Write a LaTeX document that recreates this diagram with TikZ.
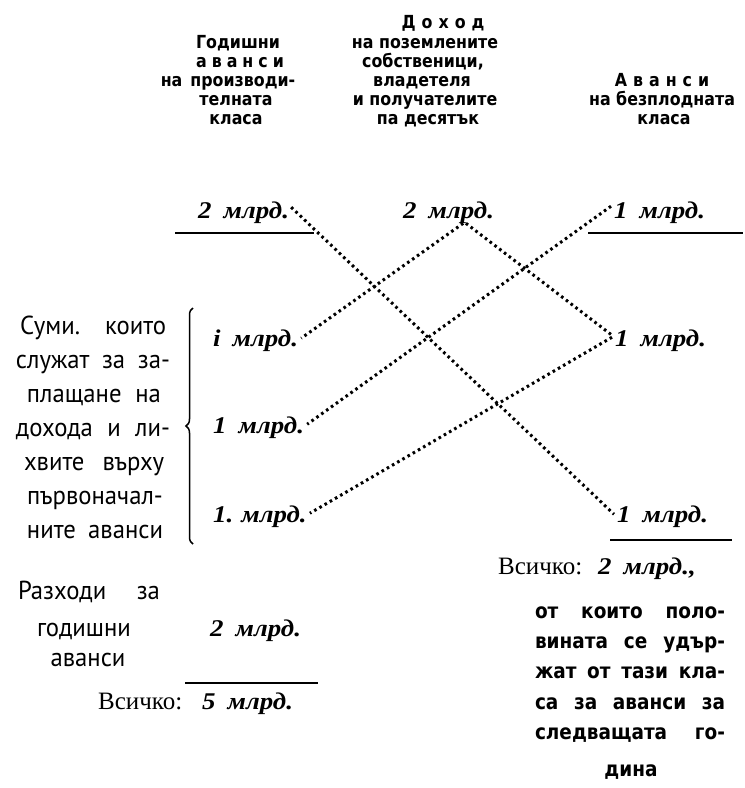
\documentclass[tikz,border=0pt]{standalone}
\usepackage{fontspec}
\setmainfont{PT Sans}
\newfontfamily\bodyfont[FakeStretch=0.95]{PT Sans}
\newfontfamily\hdrfont[FakeStretch=0.88]{DejaVu Sans}
\newfontfamily\rfont[FakeStretch=0.88]{DejaVu Sans}
\newfontfamily\numfont[FakeStretch=1.12]{Liberation Serif}
\newfontfamily\serfont{Liberation Serif}
\usetikzlibrary{decorations.pathreplacing,calc}
\newcommand\nfnt{\numfont\bfseries\itshape\fontsize{24}{24}\selectfont}
\begin{document}
\begin{tikzpicture}[x=1pt,y=-1pt,
  hdr/.style={font=\hdrfont\bfseries\fontsize{18}{18}\selectfont, inner sep=0pt, anchor=base},
  num/.style={font=\nfnt, inner sep=0pt, anchor=base west},
  body/.style={font=\bodyfont\fontsize{26}{26}\selectfont, inner sep=0pt, anchor=base},
  rtext/.style={font=\rfont\bfseries\fontsize{21}{21}\selectfont, inner sep=0pt, anchor=base},
  rulel/.style={line width=1.8pt},
  dotl/.style={line width=3pt, dash pattern=on 2.6pt off 3.4pt},
  bracel/.style={line width=1.5pt, decorate, decoration={brace, amplitude=7pt}}]
\useasboundingbox (0,0) rectangle (745,788);
\fill[white] (0,0) rectangle (745,788);

% headers
\node[hdr] (c1a) at (238,48) {Годишни};
\node[hdr] (c1b) at (240,67) {а\kern5ptв\kern5ptа\kern5ptн\kern5ptс\kern5ptи};
\node[hdr] (c1c) at (228,86) {на\kern8pt производи-};
\node[hdr] (c1d) at (236,105) {телната};
\node[hdr] (c1e) at (236,124) {класа};

\node[hdr] (c2a) at (443,28) {Д\kern6ptо\kern6ptх\kern6ptо\kern6ptд};
\node[hdr] (c2b) at (425,48) {на поземлените};
\node[hdr] (c2c) at (423,67) {собственици,};
\node[hdr] (c2d) at (422,86) {владетеля};
\node[hdr] (c2e) at (425,105) {и получателите};
\node[hdr] (c2f) at (428,124) {па десятък};

\node[hdr] (c3a) at (662,86) {А\kern6ptв\kern6ptа\kern6ptн\kern6ptс\kern6ptи};
\node[hdr] (c3b) at (662,105) {на безплодната};
\node[hdr] (c3c) at (664,124) {класа};

% top values
\node[num] (topL) at (198,218) {2\hspace{12pt}млрд.};
\node[num] (topM) at (403,218) {2\hspace{12pt}млрд.};
\node[num] (topR) at (614,218) {1\hspace{12pt}млрд.};
\draw[rulel] (175,233) -- (314,233);
\draw[rulel] (588,233) -- (743,233);

% left column values
\node[num] (l1) at (213,346) {i\hspace{12pt}млрд.};
\node[num] (l2) at (213,433) {1\hspace{12pt}млрд.};
\node[num] (l3) at (213,522) {1.\hspace{8pt}млрд.};

% right column values
\node[num] (rM) at (615,346) {1\hspace{12pt}млрд.};
\node[num] (rB) at (617,522) {1\hspace{12pt}млрд.};
\draw[rulel] (610,540) -- (732,540);
\node[anchor=base west, inner sep=0pt] (totR) at (498,574)
  {{\serfont\fontsize{25}{25}\selectfont Всичко:}\hspace{16pt}{\nfnt 2\hspace{12pt}млрд.,}};

% brace and left paragraph
\draw[bracel] (193,544) -- (193,308);
\node[body] (p1) at (93,334) {\makebox[146pt][s]{Суми. които}};
\node[body] (p2) at (93,368) {\makebox[154pt][s]{служат за за-}};
\node[body] (p3) at (94,402) {\makebox[134pt][s]{плащане на}};
\node[body] (p4) at (93,436) {\makebox[154pt][s]{дохода и ли-}};
\node[body] (p5) at (94,470) {\makebox[140pt][s]{хвите върху}};
\node[body] (p6) at (95,504) {първоначал-};
\node[body] (p7) at (95,538) {\makebox[136pt][s]{ните аванси}};

% bottom left
\node[body] (q1) at (89,599) {\makebox[142pt][s]{Разходи за}};
\node[body] (q2) at (84,636) {годишни};
\node[body] (q3) at (88,666) {аванси};
\node[num] (botL) at (210,636) {2\hspace{12pt}млрд.};
\draw[rulel] (185,683) -- (318,683);
\node[anchor=base west, inner sep=0pt] (totL) at (98,709)
  {{\serfont\fontsize{25}{25}\selectfont Всичко:}\hspace{20pt}{\nfnt 5\hspace{12pt}млрд.}};

% right paragraph
\node[rtext] (r1) at (630,618) {\makebox[190pt][s]{от които поло-}};
\node[rtext] (r2) at (630,648) {\makebox[190pt][s]{вината се удър-}};
\node[rtext] (r3) at (630,678) {\makebox[190pt][s]{жат от тази кла-}};
\node[rtext] (r4) at (630,709) {\makebox[190pt][s]{са за аванси за}};
\node[rtext] (r5) at (630,739) {\makebox[190pt][s]{следващата го-}};
\node[rtext] (r6) at (631,776) {дина};

% dotted connectors
\draw[dotl] ([xshift=2pt,yshift=5pt]topL.east) -- ([xshift=-3pt,yshift=2pt]rB.west);
\draw[dotl] ($(topM.south west)!0.66!(topM.south east)$) -- ([xshift=3pt,yshift=2pt]l1.east);
\draw[dotl] ($(topM.south west)!0.69!(topM.south east)$) -- ([xshift=-3pt,yshift=5pt]rM.west);
\draw[dotl] ([xshift=-3pt,yshift=6pt]topR.west) -- ([xshift=3pt,yshift=3pt]l2.east);
\draw[dotl] ([xshift=-3pt,yshift=3pt]rM.west) -- ([xshift=3pt,yshift=3pt]l3.east);
\end{tikzpicture}
\end{document}
